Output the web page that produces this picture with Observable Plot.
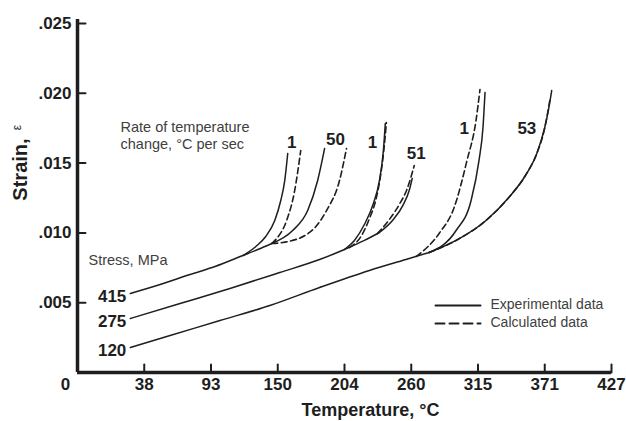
<!DOCTYPE html>
<html>
<head>
<meta charset="utf-8">
<script src="https://cdn.jsdelivr.net/npm/d3@7"></script>
<script src="https://cdn.jsdelivr.net/npm/@observablehq/plot@0.6"></script>
<style>
  html, body { margin: 0; padding: 0; background: #fff; }
  #chart svg { display: block; }
</style>
</head>
<body>
<div id="chart"></div>
<script>
// ---- Data (temperature in °C, strain) ----
// axis is linear in °F (0..800 °F) with °C tick labels
const xTickF = [100, 200, 300, 400, 500, 600, 700, 800];
const xTickLabels = ["38", "93", "150", "204", "260", "315", "371", "427"];
const yTicks = [0.005, 0.010, 0.015, 0.020, 0.025];
const yTickLabels = [".005", ".010", ".015", ".020", ".025"];

const stressLevels = ["415", "275", "120"];

// shared (base) experimental curves for each stress level
const base415 = [[26.2,.00566],[51.0,.00630],[75.9,.00702],[96.7,.00759],[119.9,.00838],[132.3,.00881],[143.9,.00924]];
const base275 = [[26.2,.00387],[67.6,.00494],[109.1,.00602],[150.5,.00716],[183.7,.00809],[204.4,.00881],[221.0,.00946],[233.5,.01003]];
const base120 = [[26.2,.00179],[59.3,.00265],[100.8,.00372],[142.3,.00480],[183.7,.00609],[225.2,.00731],[258.3,.00817],[274.9,.00860]];

// 415 MPa, rates 1 and 50 °C/s
const exp415r1   = [[119.9,.00838],[130.7,.00903],[138.9,.00974],[146.4,.01089],[151.4,.01232],[154.7,.01375],[157.2,.01569]];
const calc415r1  = [[143.9,.00924],[148.0,.00960],[156.3,.01089],[163.0,.01304],[168.0,.01590]];
const exp415r50  = [[143.9,.00924],[161.3,.01017],[173.8,.01160],[182.1,.01375],[187.9,.01605]];
const calc415r50 = [[143.9,.00924],[153.0,.00931],[175.4,.01003],[189.5,.01160],[200.3,.01375],[206.1,.01605]];

// 275 MPa, rates 1 and 51 °C/s
const exp275r1   = [[204.4,.00881],[212.7,.00946],[221.0,.01060],[228.5,.01211],[233.5,.01375],[236.8,.01590],[238.4,.01784]];
const calc275r1  = [[208.6,.00895],[218.6,.00981],[225.2,.01103],[231.0,.01254],[235.1,.01447],[237.6,.01626],[239.3,.01791]];
const exp275r51  = [[233.5,.01003],[245.1,.01096],[253.4,.01203],[258.3,.01304],[260.8,.01390]];
const calc275r51 = [[231.8,.00995],[241.8,.01096],[250.0,.01203],[256.7,.01318],[262.5,.01483]];

// 120 MPa, rates 1 and 53 °C/s
const exp120r1   = [[274.9,.00860],[297.3,.01017],[309.8,.01232],[316.4,.01519],[319.7,.01755],[321.4,.02006]];
const calc120r1  = [[264.2,.00831],[283.2,.00996],[295.7,.01182],[306.4,.01519],[313.9,.01805],[317.2,.02027]];
const exp120r53  = [[274.9,.00860],[297.3,.00946],[322.2,.01089],[341.2,.01254],[354.5,.01404],[364.5,.01569],[371.1,.01755],[374.4,.01891],[376.9,.02020]];
const calc120r53 = [[274.9,.00860],[297.3,.00946],[322.2,.01089],[341.2,.01254],[354.5,.01404],[364.5,.01569],[370.6,.01733],[373.9,.01877],[375.3,.01948]];

// rate-of-temperature-change labels (°C, strain, text)
const rateLabels = [
  [160.5, .01647, "1"], [197.0, .01669, "50"], [227.7, .01647, "1"],
  [264.2, .01569, "51"], [304.0, .01748, "1"], [356.2, .01748, "53"]
];

// ---- Build tables ----
const toF = c => c * 1.8 + 32;
const solidCurves = {base415, base275, base120, exp415r1, exp415r50, exp275r1, exp275r51, exp120r1, exp120r53};
const dashedCurves = {calc415r1, calc415r50, calc275r1, calc275r51, calc120r1, calc120r53};
const toRows = obj => Object.entries(obj).flatMap(([id, pts]) => pts.map(([t, s]) => ({id, t, s})));
const solidRows = toRows(solidCurves);
const dashedRows = toRows(dashedCurves);
const stressStarts = [base415, base275, base120].map((c, i) => ({t: c[0][0], s: c[0][1], label: stressLevels[i]}));
const rateRows = rateLabels.map(([t, s, label]) => ({t, s, label}));
const xLabelMap = new Map(xTickF.map((d, i) => [d, xTickLabels[i]]));
const yLabelMap = new Map(yTicks.map((d, i) => [d, yTickLabels[i]]));

const stub = {draw(context, l) { context.moveTo(0, 0); context.lineTo(0, -l); }};
const ink = "#1e1e1e";
const grey = "#404040";
const note = {textAnchor: "start", lineAnchor: "middle", fontSize: 14.5, fill: grey, frameAnchor: "top-left"};

const chart = Plot.plot({
  width: 626,
  height: 421,
  marginLeft: 77,
  marginRight: 15,
  marginTop: 23,
  marginBottom: 49,
  style: {fontFamily: "'Liberation Sans', Arial, sans-serif", background: "#fff", color: ink},
  x: {domain: [0, 800], axis: null},
  y: {domain: [0, 0.025], axis: null},
  marks: [
    // axis tick labels
    Plot.axisX({ticks: xTickF, tickFormat: d => xLabelMap.get(d), tickSize: 0, tickPadding: 5, fontSize: 17, fontWeight: "bold", label: null, fill: ink}),
    Plot.axisY({ticks: yTicks, tickFormat: d => yLabelMap.get(d), tickSize: 0, tickPadding: 6, fontSize: 17, fontWeight: "bold", label: null, fill: ink}),
    // inward tick marks
    Plot.vector(xTickF, {x: d => d, frameAnchor: "bottom", length: 8, rotate: 0, anchor: "start", shape: stub, stroke: ink, strokeWidth: 2}),
    Plot.vector(yTicks, {y: d => d, frameAnchor: "left", length: 8, rotate: 90, anchor: "start", shape: stub, stroke: ink, strokeWidth: 2}),
    // axis lines
    Plot.ruleY([0], {stroke: ink, strokeWidth: 3.5}),
    Plot.ruleX([0], {stroke: ink, strokeWidth: 3.5, insetTop: -4}),
    // origin label
    Plot.text(["0"], {text: d => d, frameAnchor: "bottom-left", textAnchor: "middle", lineAnchor: "middle", dx: -12, dy: 12, fontSize: 17, fontWeight: "bold", fill: ink}),
    // curves
    Plot.line(solidRows, {x: d => toF(d.t), y: "s", z: "id", curve: "monotone-x", stroke: ink, strokeWidth: 1.5}),
    Plot.line(dashedRows, {x: d => toF(d.t), y: "s", z: "id", curve: "monotone-x", stroke: ink, strokeWidth: 1.6, strokeDasharray: "6,3.5"}),
    // stress labels
    Plot.text(stressStarts, {x: d => toF(d.t), y: "s", text: "label", textAnchor: "end", dx: -4, dy: 3, fontSize: 17, fontWeight: "bold", fill: ink}),
    // rate labels
    Plot.text(rateRows, {x: d => toF(d.t), y: "s", text: "label", fontSize: 17, fontWeight: "bold", fill: ink}),
    // annotations
    Plot.text(["Rate of temperature\nchange, \u00B0C per sec"], {...note, text: d => d, dx: 43, dy: 111.5, lineHeight: 1.2}),
    Plot.text(["Stress, MPa"], {...note, text: d => d, dx: 11, dy: 237}),
    // legend
    Plot.vector(["Experimental data"], {frameAnchor: "top-left", dx: 358, dy: 282, length: 45, rotate: 90, anchor: "start", shape: stub, stroke: ink, strokeWidth: 2}),
    Plot.vector(["Calculated data"], {frameAnchor: "top-left", dx: 358, dy: 300, length: 45, rotate: 90, anchor: "start", shape: stub, stroke: ink, strokeWidth: 2, strokeDasharray: "9,5"}),
    Plot.text(["Experimental data"], {...note, text: d => d, dx: 413, dy: 281, fontSize: 14}),
    Plot.text(["Calculated data"], {...note, text: d => d, dx: 413, dy: 299, fontSize: 14}),
    // axis titles
    Plot.text(["Temperature, \u00B0C"], {text: d => d, frameAnchor: "bottom", textAnchor: "middle", lineAnchor: "middle", dx: 26, dy: 38, fontSize: 18, fontWeight: "bold", fill: ink}),
    Plot.text(["Strain,"], {text: d => d, frameAnchor: "left", textAnchor: "middle", lineAnchor: "middle", dx: -57, dy: -28.5, rotate: -90, fontSize: 20, fontWeight: "bold", fill: ink}),
    Plot.text(["\u03B5"], {text: d => d, frameAnchor: "left", textAnchor: "middle", lineAnchor: "middle", dx: -60, dy: -70.5, rotate: -90, fontSize: 12, fill: ink})
  ]
});
document.getElementById("chart").appendChild(chart);
</script>
</body>
</html>
